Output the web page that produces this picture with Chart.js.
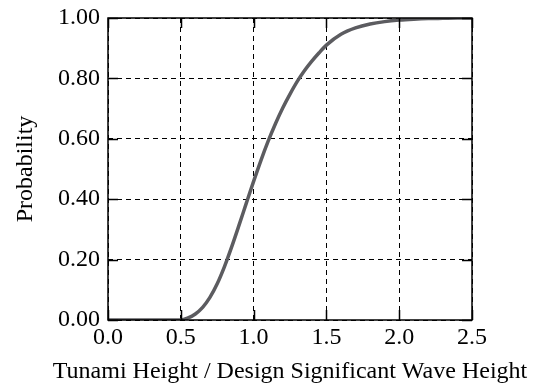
<!DOCTYPE html>
<html>
<head>
<meta charset="utf-8">
<script src="https://cdn.jsdelivr.net/npm/chart.js@4.4.1/dist/chart.umd.min.js"></script>
<style>
  html, body { margin: 0; padding: 0; background: #fff; }
  #wrap { width: 539px; height: 387px; }
</style>
</head>
<body>
<div id="wrap"><canvas id="chart" width="539" height="387"></canvas></div>
<script>
// values
const heightRatio = [0.0, 0.1, 0.2, 0.3, 0.4, 0.5, 0.55, 0.6, 0.65, 0.7, 0.75, 0.8, 0.85, 0.9, 0.95,
  1.0, 1.05, 1.1, 1.15, 1.2, 1.25, 1.3, 1.35, 1.4, 1.45, 1.5, 1.6, 1.7, 1.8, 1.9, 2.0, 2.1, 2.2, 2.3, 2.4, 2.5];
const probability = [0, 0, 0, 0, 0, 0, 0.007, 0.02, 0.042, 0.075, 0.12, 0.177, 0.243, 0.314, 0.387,
  0.459, 0.528, 0.592, 0.65, 0.702, 0.748, 0.79, 0.826, 0.857, 0.885, 0.91, 0.946, 0.967, 0.98, 0.988, 0.993, 0.996, 0.998, 0.999, 1.0, 1.0];
const xTicks = [0, 0.5, 1.0, 1.5, 2.0, 2.5];
const yTicks = [0, 0.2, 0.4, 0.6, 0.8, 1.0];
const xTitle = 'Tunami Height / Design Significant Wave Height';

const serif = "'Liberation Serif', 'Times New Roman', serif";

// solid inward tick marks + frame on top of the dashed grid,
// and the x title (wider than the plot, so Chart.js would squeeze it)
const frameTicks = {
  id: 'frameTicks',
  afterDraw(chart) {
    const { ctx, chartArea: a, scales: { x, y } } = chart;
    const len = 10;
    ctx.save();
    ctx.strokeStyle = '#000';
    ctx.lineWidth = 1.5;
    ctx.beginPath();
    xTicks.forEach(v => {
      const px = Math.round(x.getPixelForValue(v)) + 0.5;
      ctx.moveTo(px, a.bottom); ctx.lineTo(px, a.bottom - len);
      ctx.moveTo(px, a.top); ctx.lineTo(px, a.top + len);
    });
    yTicks.forEach(v => {
      const py = Math.round(y.getPixelForValue(v)) + 0.5;
      ctx.moveTo(a.left, py); ctx.lineTo(a.left + len, py);
      ctx.moveTo(a.right, py); ctx.lineTo(a.right - len, py);
    });
    ctx.stroke();
    ctx.strokeRect(a.left, a.top, a.right - a.left, a.bottom - a.top);

    ctx.fillStyle = '#000';
    ctx.font = '24px ' + serif;
    ctx.textAlign = 'center';
    ctx.textBaseline = 'alphabetic';
    ctx.fillText(xTitle, (a.left + a.right) / 2, 378);
    ctx.restore();
  }
};

new Chart(document.getElementById('chart'), {
  type: 'scatter',
  data: {
    datasets: [{
      data: heightRatio.map((h, i) => ({ x: h, y: probability[i] })),
      showLine: true,
      borderColor: '#5c5c60',
      borderWidth: 3.5,
      pointRadius: 0,
      cubicInterpolationMode: 'monotone',
      fill: false
    }]
  },
  options: {
    responsive: false,
    animation: false,
    layout: { padding: { top: 18, right: 67, left: 0, bottom: 0 } },
    plugins: { legend: { display: false }, tooltip: { enabled: false } },
    scales: {
      x: {
        type: 'linear',
        min: 0, max: 2.5,
        afterBuildTicks: s => { s.ticks = xTicks.map(v => ({ value: v })); },
        afterFit: s => { s.height = 67; },
        grid: { color: '#000', lineWidth: 1, drawTicks: false },
        border: { display: false, dash: [5, 4] },
        ticks: {
          color: '#000', padding: 3,
          font: { family: serif, size: 24 },
          callback: v => v.toFixed(1)
        },
        title: { display: false }
      },
      y: {
        min: 0, max: 1,
        afterBuildTicks: s => { s.ticks = yTicks.map(v => ({ value: v })); },
        afterFit: s => { s.width = 108; s.paddingTop = 0; s.paddingBottom = 0; },
        grid: { color: '#000', lineWidth: 1, drawTicks: false },
        border: { display: false, dash: [5, 4] },
        ticks: {
          color: '#000', padding: 8,
          font: { family: serif, size: 24 },
          callback: v => v.toFixed(2)
        },
        title: {
          display: true, text: 'Probability',
          color: '#000', font: { family: serif, size: 24 }, padding: { top: 11, bottom: 0 }
        }
      }
    }
  },
  plugins: [frameTicks]
});
</script>
</body>
</html>
